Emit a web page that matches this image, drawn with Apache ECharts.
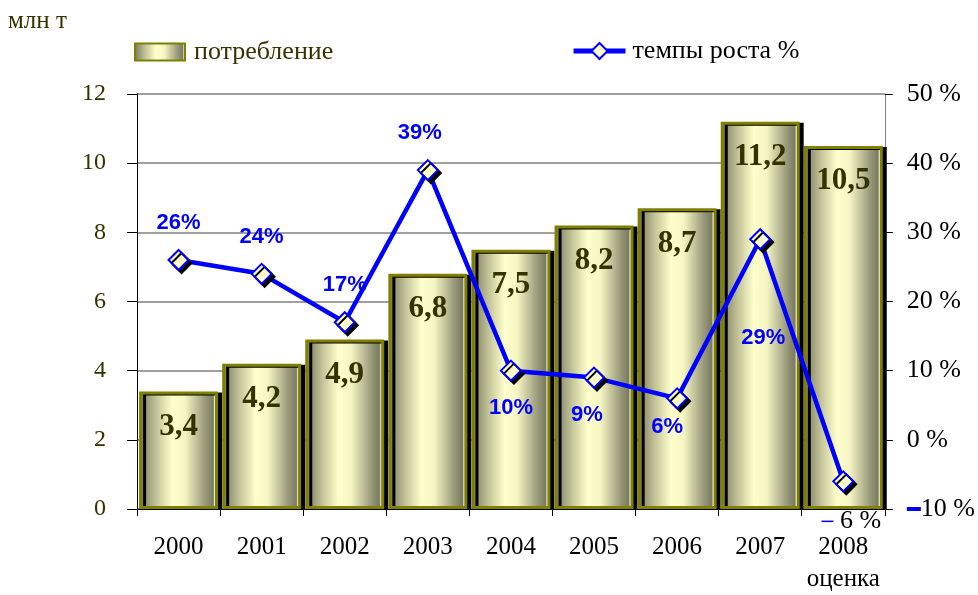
<!DOCTYPE html>
<html>
<head>
<meta charset="utf-8">
<script src="https://cdn.jsdelivr.net/npm/echarts@6/dist/echarts.min.js"></script>
<style>
  html,body{margin:0;padding:0;background:#fff;}
  #chart{width:978px;height:595px;}
</style>
</head>
<body>
<div id="chart"></div>
<script>
// годы и значения
const years = ['2000','2001','2002','2003','2004','2005','2006','2007','2008'];
const consumption = [3.4, 4.2, 4.9, 6.8, 7.5, 8.2, 8.7, 11.2, 10.5];
const growth = [26, 24, 17, 39, 10, 9, 6, 29, -6];
const leftTicks = [0, 2, 4, 6, 8, 10, 12];
const rightTicks = [-10, 0, 10, 20, 30, 40, 50];
// где подпись процента: над точкой или под ней
const labelSide = ['top','top','top','top','bottom','bottom','bottom','bottom','bottom'];

const serif = 'Liberation Serif';
const sans = 'Liberation Sans';

const barFill = {
  type:'linear', x:0, y:0, x2:1, y2:0,
  colorStops:[
    {offset:0, color:'#76765a'},
    {offset:0.22, color:'#c4c49a'},
    {offset:0.42, color:'#ffffcc'},
    {offset:0.58, color:'#f6f6c4'},
    {offset:0.84, color:'#98987a'},
    {offset:0.94, color:'#7a7a5e'},
    {offset:0.96, color:'#ffffff'},
    {offset:1, color:'#ffffff'}
  ]
};

const lineData = growth.map((v,i)=>{
  const item = {value:v, label:{position:labelSide[i]}};
  if(i === 3) item.label.offset = [-8, 0];
  if(i === 5) item.label.offset = [-7, 0];
  if(i === 6) item.label.offset = [-10, -8];
  if(i === 7) item.label.offset = [3, 62];
  if(v < 0){
    item.label = {
      position:'bottom', distance:16, offset:[8, 0],
      formatter:'{d|}{n| ' + Math.abs(v) + ' %}',
      rich:{
        d:{backgroundColor:'#0000ff', width:12, height:1.5},
        n:{color:'#000', fontSize:26, fontFamily:serif, fontWeight:'normal'}
      }
    };
  }
  return item;
});

const chart = echarts.init(document.getElementById('chart'));
chart.setOption({
  animation:false,
  title:{
    text:'млн т', left:3, top:4,
    textStyle:{fontFamily:serif, fontSize:25, fontWeight:'normal', color:'#333300'}
  },
  legend:[
    {
      data:[{name:'потребление', icon:'rect'}], left:129, top:34,
      itemWidth:50, itemHeight:17,
      textStyle:{fontFamily:serif, fontSize:26, color:'#333300', padding:[0,0,0,4]}
    },
    {
      data:['темпы роста %'], left:566, top:33,
      itemWidth:52, itemHeight:20,
      lineStyle:{width:5},
      textStyle:{fontFamily:serif, fontSize:26, color:'#000', padding:[0,0,0,2]}
    }
  ],
  grid:{left:137, right:92, top:94, bottom:85},
  xAxis:{
    type:'category', data:years,
    axisLine:{lineStyle:{color:'#000', width:1}},
    axisTick:{show:true, interval:0, length:7, lineStyle:{color:'#000'}},
    axisLabel:{
      interval:0, fontFamily:serif, fontSize:25, color:'#000', margin:22, lineHeight:32,
      formatter:v => v === '2008' ? '2008\nоценка' : v
    }
  },
  yAxis:[
    {
      type:'value', min:0, max:12, interval:2,
      axisLine:{show:true, lineStyle:{color:'#000'}},
      axisTick:{show:true, length:10, lineStyle:{color:'#000'}},
      axisLabel:{fontFamily:serif, fontSize:24, color:'#333300', margin:31,
        formatter:v => leftTicks.indexOf(v) >= 0 ? String(v) : ''},
      splitLine:{show:true, lineStyle:{color:'#808080', width:1.5}}
    },
    {
      type:'value', min:-10, max:50, interval:10,
      axisLine:{show:true, lineStyle:{color:'#808080'}},
      axisTick:{show:true, length:8, lineStyle:{color:'#000'}},
      splitLine:{show:false},
      axisLabel:{
        fontFamily:serif, fontSize:26, color:'#000', margin:22,
        formatter:v => {
          if(rightTicks.indexOf(v) < 0) return '';
          return v < 0 ? '{m|}' + Math.abs(v) + ' %' : v + ' %';
        },
        rich:{m:{backgroundColor:'#0000ff', width:14, height:4}}
      }
    }
  ],
  series:[
    {
      name:'потребление', type:'bar', data:consumption,
      barCategoryGap:'5%',
      itemStyle:{
        color:barFill, borderColor:'#808000', borderWidth:3,
        shadowColor:'#000', shadowBlur:0, shadowOffsetX:4, shadowOffsetY:1
      },
      label:{
        show:true, position:'insideTop', distance:20,
        fontFamily:serif, fontSize:31, fontWeight:'bold', color:'#333300',
        formatter:p => String(p.value).replace('.', ',')
      }
    },
    {
      name:'темпы роста %', type:'line', yAxisIndex:1, data:lineData,
      lineStyle:{color:'#0000ff', width:4.5},
      symbol:'diamond', symbolSize:[20,20],
      itemStyle:{
        color:'#ffffcc', borderColor:'#0000ff', borderWidth:2,
        shadowColor:'#000', shadowBlur:0, shadowOffsetX:3, shadowOffsetY:3
      },
      label:{
        show:true, distance:15,
        fontFamily:sans, fontSize:22, fontWeight:'bold', color:'#0000ff',
        formatter:p => p.value + '%'
      },
      z:3
    }
  ]
});
</script>
</body>
</html>
